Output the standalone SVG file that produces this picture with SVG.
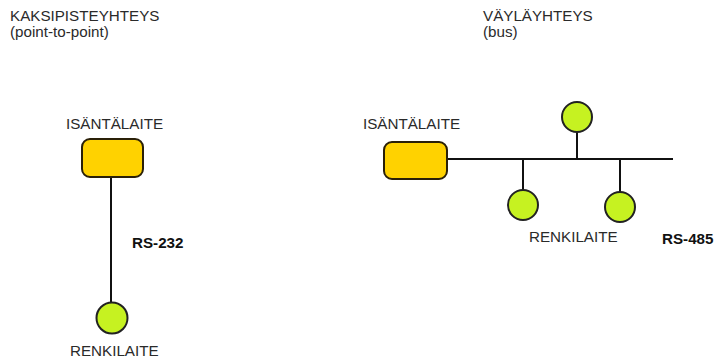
<svg xmlns="http://www.w3.org/2000/svg" width="714" height="361" viewBox="0 0 714 361">
<style>
text{font-family:"Liberation Sans",Arial,sans-serif;font-size:15.2px;fill:#2a2a2a}
.b{font-weight:bold;fill:#111}
.master{fill:#ffd200;stroke:#2a2008;stroke-width:2}
.slave{fill:#c6f221;stroke:#222;stroke-width:2}
.wire{stroke:#111;stroke-width:2;fill:none}
</style>
<rect width="714" height="361" fill="#fff"/>
<text x="10" y="21">KAKSIPISTEYHTEYS</text>
<text x="10" y="37">(point-to-point)</text>
<text x="483" y="21">VÄYLÄYHTEYS</text>
<text x="483" y="37">(bus)</text>
<g id="connectors">
<line class="wire" x1="111" y1="177" x2="111" y2="303"/>
<line class="wire" x1="447" y1="159" x2="673" y2="159"/>
<line class="wire" x1="577" y1="132" x2="577" y2="159"/>
<line class="wire" x1="523" y1="159" x2="523" y2="190"/>
<line class="wire" x1="620" y1="159" x2="620" y2="192"/>
</g>
<g id="master1">
<rect class="master" x="82" y="139" width="61" height="38" rx="8"/>
<text x="66" y="129">ISÄNTÄLAITE</text>
</g>
<g id="slave1">
<circle class="slave" cx="112" cy="318" r="15.5"/>
<text x="70" y="356">RENKILAITE</text>
</g>
<text class="b" x="132" y="248" font-size="17">RS-232</text>
<g id="master2">
<rect class="master" x="384" y="142" width="63" height="37" rx="8"/>
<text x="363" y="129">ISÄNTÄLAITE</text>
</g>
<g id="slave2">
<circle class="slave" cx="577" cy="117" r="15"/>
</g>
<g id="slave3">
<circle class="slave" cx="523" cy="205" r="15"/>
</g>
<g id="slave4">
<circle class="slave" cx="620" cy="207" r="15"/>
</g>
<text x="529" y="242">RENKILAITE</text>
<text class="b" x="662" y="244" font-size="16">RS-485</text>
</svg>
